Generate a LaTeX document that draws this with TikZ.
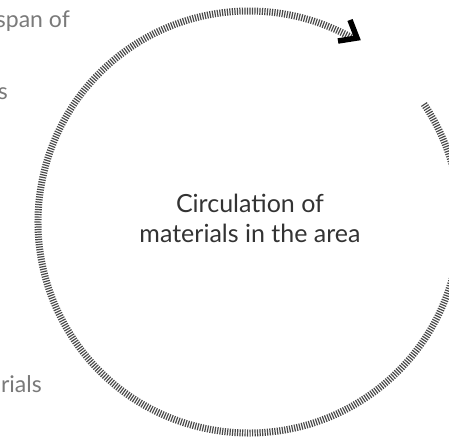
\documentclass[tikz,border=0pt]{standalone}
\usepackage{fontspec}
\setmainfont{Lato}
\definecolor{sidegray}{HTML}{7A7A7A}
\definecolor{maintext}{HTML}{333333}
\definecolor{hatchcol}{HTML}{4A4A4A}
\begin{document}
\begin{tikzpicture}[x=1pt,y=1pt,
  hatch/.style={draw=hatchcol, line width=7pt, dash pattern=on 1.2pt off 1.3pt},
  chevron/.style={draw=black, line width=5.5pt, line join=miter},
  sidetext/.style={font=\fontsize{23}{28}\selectfont, text=sidegray, inner sep=0pt},
  centertext/.style={font=\fontsize{25}{30}\selectfont, text=maintext, inner sep=0pt}]
\useasboundingbox (0,0) rectangle (449,446);
\clip (0,0) rectangle (449,446);
\coordinate (c) at (249,224);
% hatched circulation arc
\draw[hatch] (c) ++(34:211) arc[start angle=34, end angle=-299, radius=211] coordinate (arcend);
% arrow head
\coordinate (h1) at (338,405);
\coordinate (h2) at (357,408);
\coordinate (h3) at (350,426);
\draw[chevron] (h1) -- (h2) -- (h3);
% side texts (cropped)
\node[sidetext, anchor=base east] (t1) at (70,418) {span of};
\node[sidetext, anchor=base east] (t2) at (8,346) {s};
\node[sidetext, anchor=base east] (t3) at (42,53) {rials};
% center text
\node[centertext, anchor=base] (m1) at (250,233) {Circulation of};
\node[centertext, anchor=base] (m2) at (250,203) {materials in the area};
\end{tikzpicture}
\end{document}
